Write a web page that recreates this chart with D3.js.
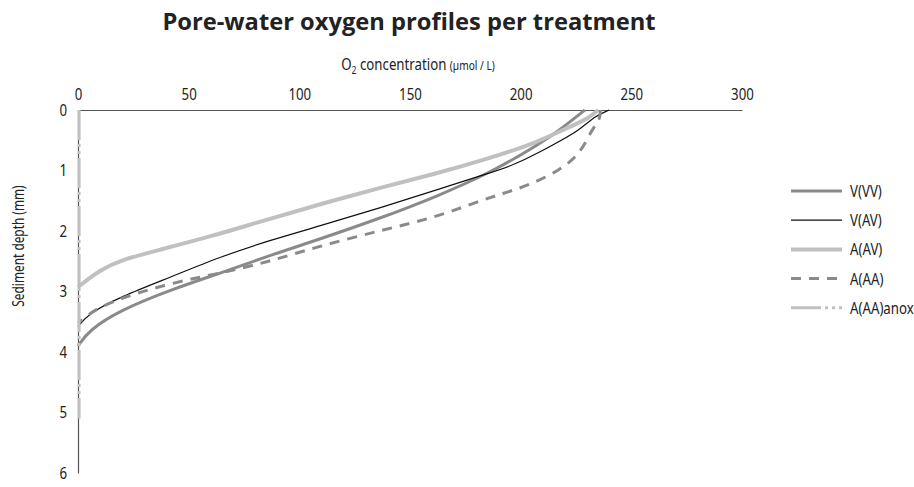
<!DOCTYPE html>
<html>
<head>
<meta charset="utf-8">
<script src="https://cdnjs.cloudflare.com/ajax/libs/d3/7.8.5/d3.min.js"></script>
<style>
  body { margin: 0; background: #fff; }
  svg text { font-family: "Noto Sans", sans-serif; fill: #222; }
  svg text.title { font-family: "Open Sans", "Noto Sans", sans-serif; font-weight: 700; }
</style>
</head>
<body>
<div id="chart"></div>
<script>
// tick labels
var xTicks = [0, 50, 100, 150, 200, 250, 300],
    yTicks = [0, 1, 2, 3, 4, 5, 6];

// series names
var seriesNames = ["V(VV)", "V(AV)", "A(AV)", "A(AA)", "A(AA)anox"];

// depth (mm) / O2 (umol/L) pairs
var depthVVV = [0, 0.38, 0.66, 1.04, 1.43, 1.77, 2.15, 2.40, 2.70, 2.97, 3.31, 3.64, 3.90],
    o2VVV    = [229, 216, 204, 186, 162, 138, 108, 87, 64, 42, 19, 5, 0];

var depthVAV = [0, 0.11, 0.33, 0.63, 0.91, 1.04, 1.32, 1.60, 1.93, 2.15, 2.43, 2.76, 3.09, 3.36, 3.58],
    o2VAV    = [240, 233, 227, 212, 197, 186, 162, 138, 108, 87, 64, 42, 19, 5, 0];

var depthAAV = [0, 0.13, 0.25, 0.45, 0.58, 0.83, 1.05, 1.27, 1.57, 1.87, 2.09, 2.31, 2.48, 2.65, 2.81, 2.93],
    o2AAV    = [235, 231, 224, 212, 204, 183, 162, 138, 108, 80, 60, 37, 19, 10, 4, 0];

var depthAAA = [0, 0.15, 0.33, 0.72, 0.99, 1.24, 1.38, 1.52, 1.77, 1.98, 2.26, 2.51, 2.70, 2.86, 3.11, 3.31, 3.47, 3.52],
    o2AAA    = [236, 236, 232, 227, 218, 204, 192, 180, 162, 138, 108, 86, 64, 42, 19, 7, 2, 0];

var depthAnox = [0, 5.1],
    o2Anox    = [0.5, 0.5];

var width = 914, height = 487,
    squeeze = 0.78;   // the original uses a condensed face

var svg = d3.select("#chart").append("svg")
    .attr("width", width)
    .attr("height", height);

var x = d3.scaleLinear().domain([0, 300]).range([78, 742]);
var y = d3.scaleLinear().domain([0, 6]).range([110, 473]);

// styles per series
var styles = [
    {color: "#8a8a8a", w: 3,   dash: null},
    {color: "#111111", w: 1.2, dash: null},
    {color: "#c0c0c0", w: 4,   dash: null},
    {color: "#8a8a8a", w: 3,   dash: "10,8"},
    {color: "#c0c0c0", w: 3,   dash: "30,4,3,4,3,4"}
];

var allDepths = [depthVVV, depthVAV, depthAAV, depthAAA, depthAnox],
    allO2     = [o2VVV, o2VAV, o2AAV, o2AAA, o2Anox];

var series = seriesNames.map(function(name, i) {
    return {
        name: name,
        style: styles[i],
        values: allDepths[i].map(function(d, j) { return {depth: d, o2: allO2[i][j]}; })
    };
});

// title
svg.append("text")
    .attr("class", "title")
    .attr("x", 409)
    .attr("y", 30)
    .attr("text-anchor", "middle")
    .style("font-size", "23.7px")
    .text("Pore-water oxygen profiles per treatment");

// x axis title
var xt = svg.append("text")
    .attr("transform", "translate(418,70) scale(" + squeeze + ",1)")
    .attr("text-anchor", "middle")
    .style("font-size", "17px");
xt.append("tspan").text("O");
xt.append("tspan").attr("dy", 4).style("font-size", "11px").text("2");
xt.append("tspan").attr("dy", -4).text(" concentration ");
xt.append("tspan").style("font-size", "13px").text("(µmol / L)");

// y axis title
svg.append("text")
    .attr("transform", "translate(24,246) rotate(-90) scale(0.72,1)")
    .attr("text-anchor", "middle")
    .style("font-size", "16.5px")
    .text("Sediment depth (mm)");

// axes
var gx = svg.append("g")
    .attr("transform", "translate(0," + y(0) + ")")
    .call(d3.axisTop(x).tickValues(xTicks).tickSize(0).tickSizeOuter(0).tickPadding(10));

var gy = svg.append("g")
    .attr("transform", "translate(" + x(0) + ",0)")
    .call(d3.axisLeft(y).tickValues(yTicks).tickFormat(d3.format("d")).tickSize(0).tickSizeOuter(0).tickPadding(11 / squeeze));

[gx, gy].forEach(function(g) {
    g.attr("font-family", null).attr("font-size", null);
    g.select(".domain").attr("stroke", "#555").attr("stroke-width", 1.2);
    g.selectAll("text")
        .style("font-size", "17px")
        .attr("fill", "#222")
        .attr("transform", "scale(" + squeeze + ",1)");
});

// lines
var line = d3.line()
    .x(function(d) { return x(d.o2); })
    .y(function(d) { return y(d.depth); })
    .curve(d3.curveBasis);

svg.selectAll(".series")
    .data(series)
  .enter().append("path")
    .attr("class", "series")
    .attr("fill", "none")
    .attr("stroke", function(d) { return d.style.color; })
    .attr("stroke-width", function(d) { return d.style.w; })
    .attr("stroke-dasharray", function(d) { return d.style.dash; })
    .attr("d", function(d) { return line(d.values); });

// legend
var legend = svg.selectAll(".legend")
    .data(series)
  .enter().append("g")
    .attr("class", "legend")
    .attr("transform", function(d, i) { return "translate(791," + (191 + i * 29.2) + ")"; });

legend.append("line")
    .attr("x1", 0).attr("x2", 51)
    .attr("stroke", function(d) { return d.style.color; })
    .attr("stroke-width", function(d) { return d.style.w; })
    .attr("stroke-dasharray", function(d) { return d.style.dash; });

legend.append("text")
    .attr("transform", "translate(59,0) scale(" + squeeze + ",1)")
    .attr("dy", "0.35em")
    .style("font-size", "17px")
    .text(function(d) { return d.name; });
</script>
</body>
</html>
